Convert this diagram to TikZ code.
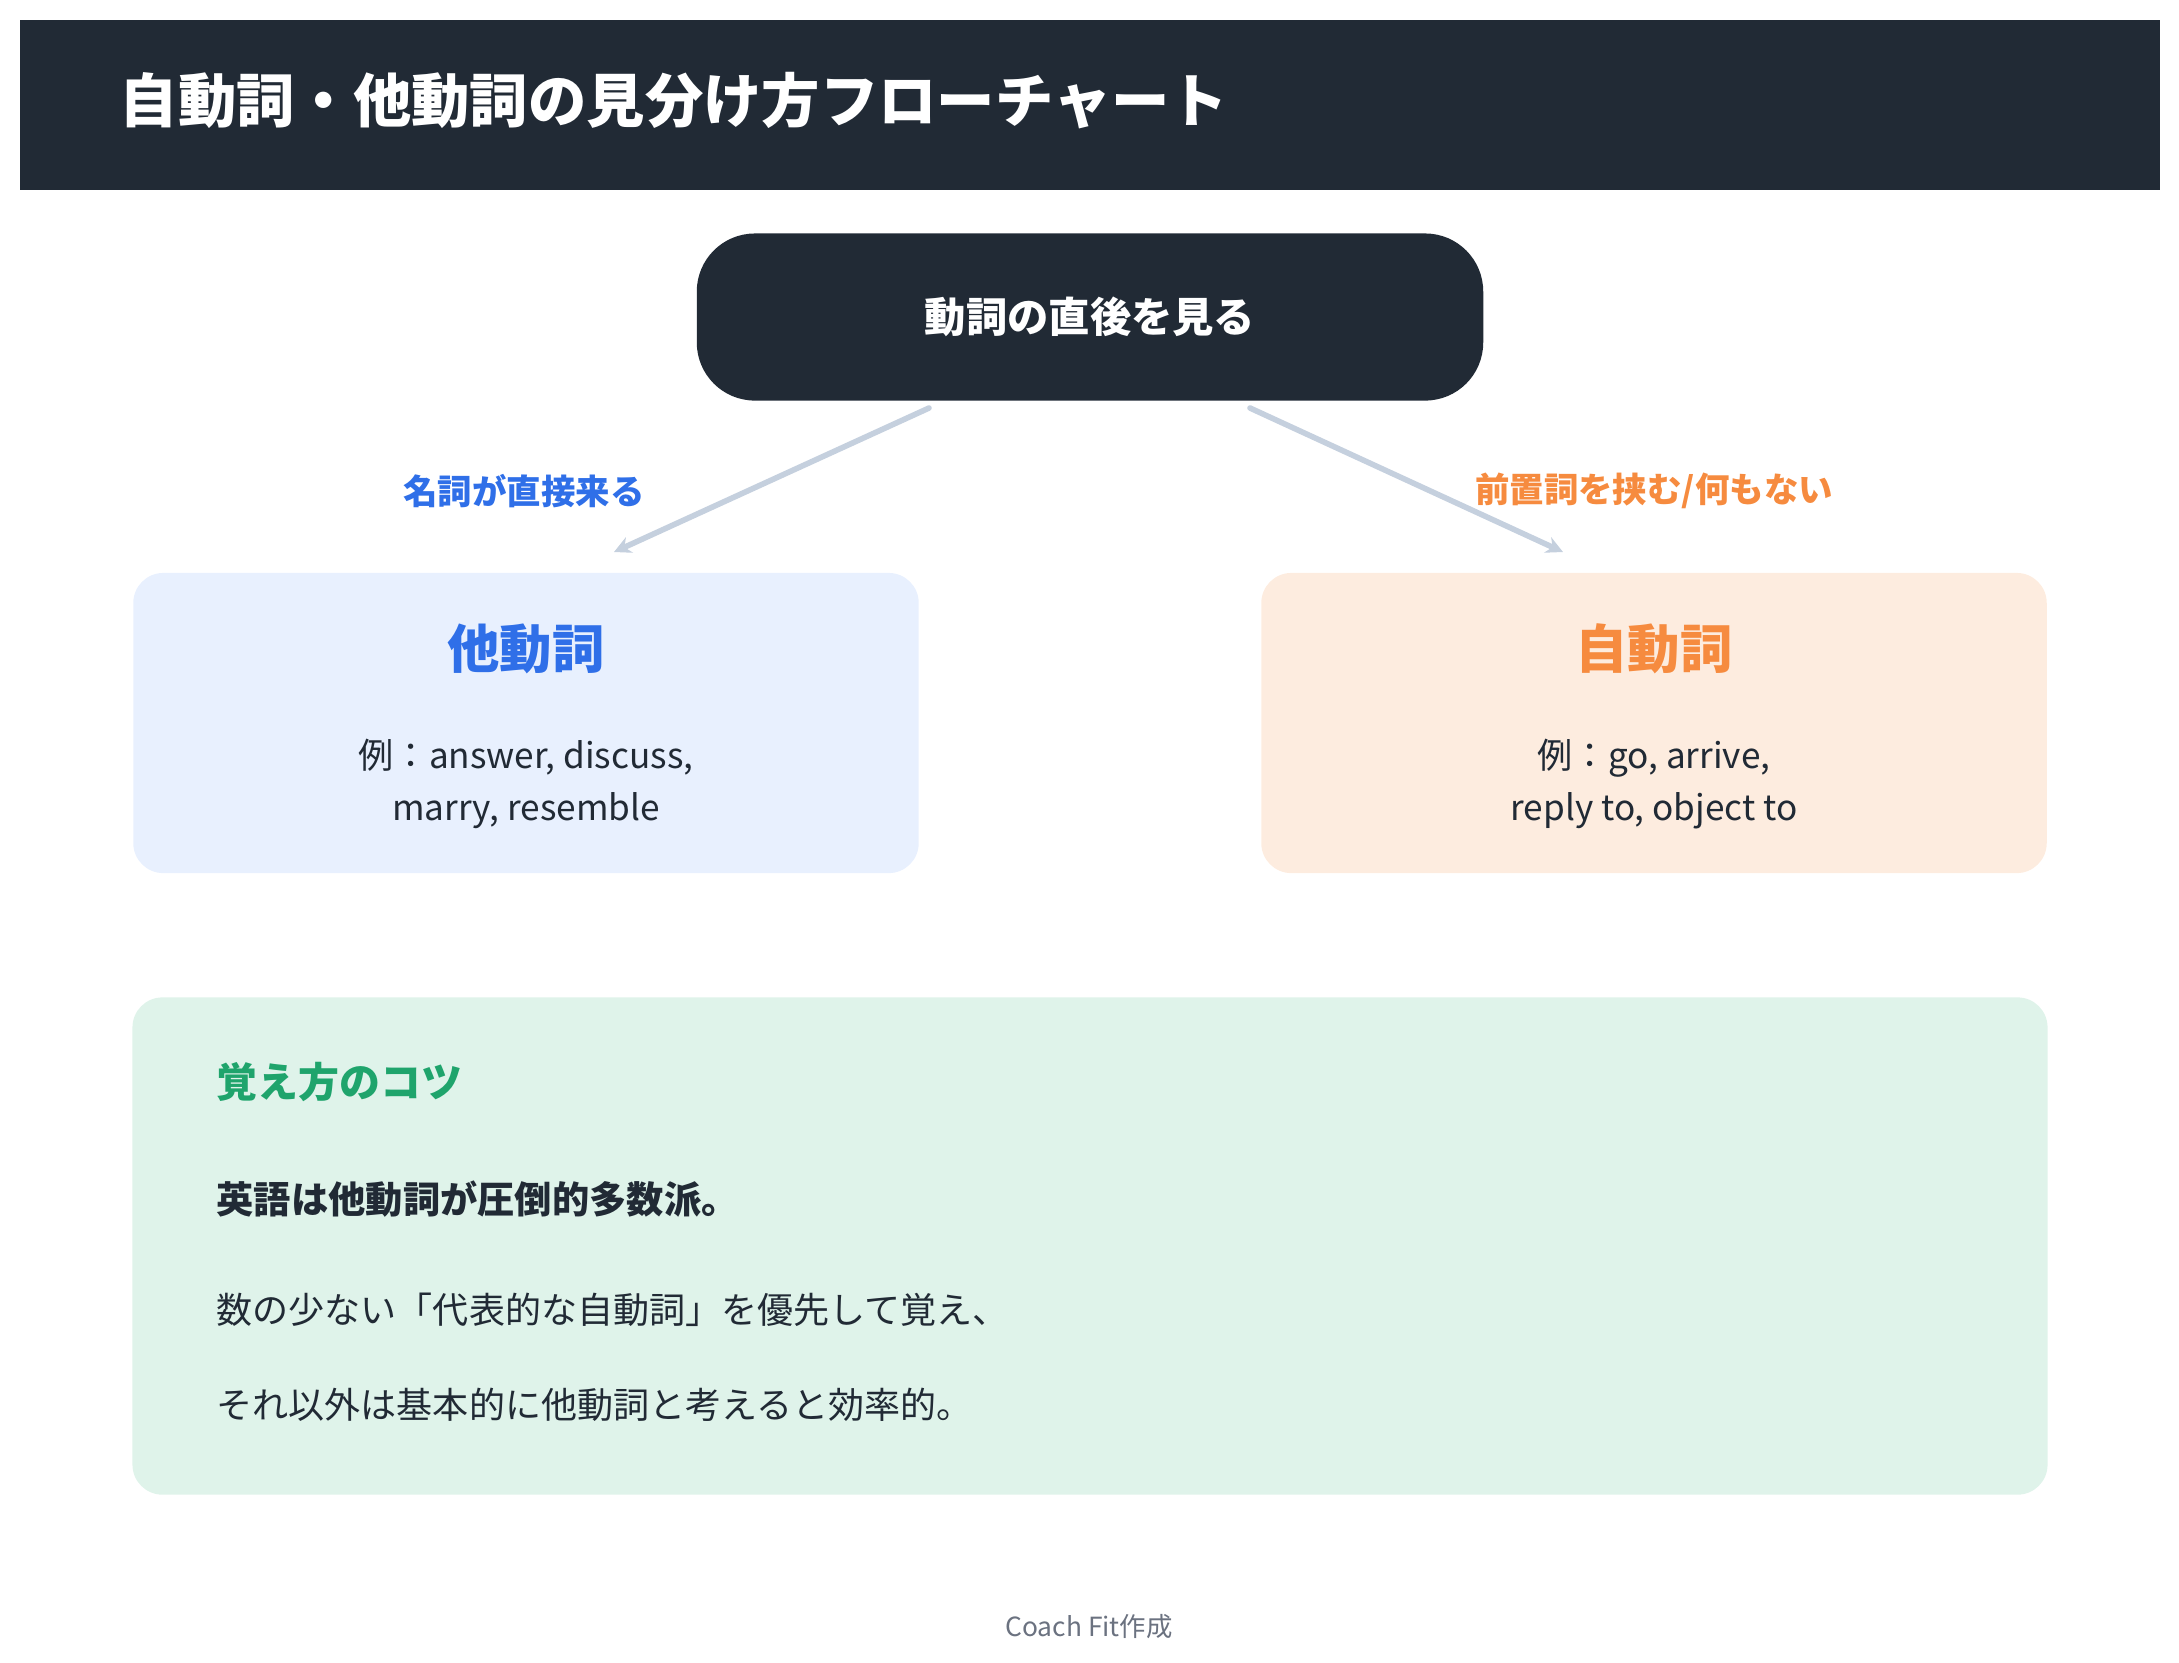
\documentclass[tikz,border=0pt]{standalone}
\usepackage{fontspec}
\setmainfont{Noto Sans CJK JP}
\usetikzlibrary{arrows.meta}
\definecolor{navy}{HTML}{212A35}
\definecolor{verbblue}{HTML}{2F6FE8}
\definecolor{verborange}{HTML}{F68B3F}
\definecolor{tipgreen}{HTML}{1FA46C}
\definecolor{bluebg}{HTML}{E8F0FE}
\definecolor{orangebg}{HTML}{FDECDF}
\definecolor{greenbg}{HTML}{DFF3EA}
\definecolor{arrowgray}{HTML}{C5D0DE}
\definecolor{footgray}{HTML}{6B7280}

\begin{document}
\begin{tikzpicture}[x=0.01cm,y=-0.01cm,
    box/.style={rounded corners=0.3cm,minimum width=7.85cm,minimum height=3cm,inner sep=0pt},
    boxtitle/.style={font=\fontsize{14.9}{17}\selectfont\bfseries},
    example/.style={align=center,text=navy,font=\fontsize{10}{15}\selectfont},
    branch/.style={font=\fontsize{9.8}{11}\selectfont\bfseries},
    flow/.style={line width=1.6pt,arrowgray,line cap=round,-{Stealth[length=4.8pt,width=4.8pt]}},
    tipline/.style={anchor=west,inner sep=0pt,text=navy,font=\fontsize{10.25}{12}\selectfont}]
        \useasboundingbox (0,0) rectangle (2179,1662);
        \fill[navy] (20,20) rectangle (2160,190);
        \node[anchor=west,inner sep=0pt,text=white,font=\fontsize{16.6}{20}\selectfont\bfseries] (title) at (119,101) {自動詞・他動詞の見分け方フローチャート};
        \node[rounded corners=0.58cm,fill=navy,minimum width=7.86cm,minimum height=1.67cm,text=white,font=\fontsize{11.75}{13}\selectfont\bfseries] (verb) at (1090,317) {動詞の直後を見る};
        \coordinate (lfrom) at (929,408);
        \coordinate (lto) at (614,552);
        \coordinate (rfrom) at (1250,408);
        \coordinate (rto) at (1563,552);
        \draw[flow] (lfrom) -- (lto);
        \draw[flow] (rfrom) -- (rto);
        \node[branch,text=verbblue] (noun) at (524,491) {名詞が直接来る};
        \node[branch,text=verborange] (prep) at (1654,491) {前置詞を挟む/何もない};
        \node[box,fill=bluebg] (trans) at (526,723) {};
        \node[boxtitle,text=verbblue] (transtitle) at (526,649) {他動詞};
        \node[example] (transex) at (526,784) {例：answer, discuss,\\marry, resemble};
        \node[box,fill=orangebg] (intrans) at (1654,723) {};
        \node[boxtitle,text=verborange] (intranstitle) at (1654,649) {自動詞};
        \node[example] (intransex) at (1654,784) {例：go, arrive,\\reply to, object to};
        \node[rounded corners=0.3cm,fill=greenbg,minimum width=19.14cm,minimum height=4.97cm] (tips) at (1090,1246) {};
        \node[tipline,text=tipgreen,font=\fontsize{11.65}{13}\selectfont\bfseries] (tipstitle) at (216,1082) {覚え方のコツ};
        \node[tipline,font=\fontsize{10.6}{12}\selectfont\bfseries] (tipsbold) at (216,1199) {英語は他動詞が圧倒的多数派。};
        \node[tipline] (tipsone) at (216,1310) {数の少ない「代表的な自動詞」を優先して覚え、};
        \node[tipline] (tipstwo) at (216,1405) {それ以外は基本的に他動詞と考えると効率的。};
        \node[text=footgray,font=\fontsize{7.5}{9}\selectfont] (credit) at (1089,1627) {Coach Fit作成};
      \end{tikzpicture}
\end{document}
